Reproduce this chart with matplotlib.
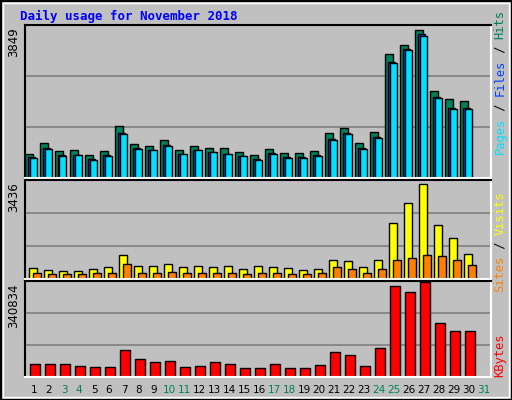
import matplotlib
matplotlib.use("Agg")
import matplotlib.pyplot as plt
from matplotlib.patches import Rectangle

days = list(range(1, 32))
hits  = [610, 890, 680, 710, 580, 680, 1320, 860, 810, 960, 710, 810, 760, 760, 660, 580, 730, 630, 630, 680, 1140, 1270, 890, 1170, 3140, 3390, 3749, 2210, 2000, 1950, 0]
files = [530, 760, 580, 590, 480, 580, 1140, 760, 710, 830, 610, 710, 660, 610, 560, 480, 630, 530, 530, 580, 990, 1140, 750, 1040, 2960, 3290, 3650, 2050, 1780, 1780, 0]
pages = [510, 740, 570, 580, 470, 570, 1110, 740, 700, 820, 600, 700, 650, 600, 550, 470, 620, 520, 520, 570, 970, 1120, 730, 1020, 2930, 3260, 3620, 2030, 1760, 1760, 0]
visits = [390, 320, 280, 280, 350, 420, 850, 460, 460, 530, 420, 460, 420, 460, 350, 460, 420, 390, 320, 350, 670, 640, 420, 670, 1980, 2650, 3320, 1910, 1450, 880, 0]
sites  = [200, 180, 170, 170, 200, 220, 530, 220, 220, 250, 200, 220, 200, 220, 180, 200, 200, 190, 180, 200, 420, 350, 220, 350, 670, 740, 850, 810, 670, 490, 0]
kbytes = [45000, 45000, 45000, 41000, 37000, 37000, 96000, 66000, 55000, 59000, 37000, 41000, 52000, 48000, 33000, 33000, 48000, 33000, 33000, 44000, 89000, 78000, 41000, 104000, 327000, 305000, 340834, 192000, 166000, 166000, 0]
ymax = [3849, 3436, 340834]

W, H = 512, 400
fig = plt.figure(figsize=(W/100, H/100), dpi=100)
fig.patch.set_facecolor("#C0C0C0")

def px(x0, y0, x1, y1):
    return [x0/W, 1-y1/H, (x1-x0)/W, (y1-y0)/H]

fig.add_artist(Rectangle((0.5/W, 0.5/H), 1-1/W, 1-1/H, transform=fig.transFigure, fill=False, ec="black", lw=1.5))
fig.add_artist(Rectangle((3/W, 3/H), 1-6/W, 1-6/H, transform=fig.transFigure, fill=False, ec="white", lw=1))
fig.text(20/W, 1-16/H, "Daily usage for November 2018", color="#0000FF", family="DejaVu Sans Mono",
         weight="bold", fontsize=9, va="center", ha="left")

xl = (1-(34-25)/15, 1+(491-34)/15)
panels = [(25, 178), (180, 279), (281, 377)]
axes = []
for (y0, y1), ym in zip(panels, ymax):
    ax = fig.add_axes(px(25, y0, 491, y1))
    ax.set_facecolor("#C0C0C0")
    ax.set_xlim(*xl)
    ax.set_ylim(0, ym*1.01)
    for f in (1/3, 2/3):
        ax.axhline(ym*1.01*f, color="#808080", lw=1.2, zorder=0)
    ax.set_xticks([]); ax.set_yticks([])
    ax.spines["top"].set_color("black"); ax.spines["left"].set_color("black")
    ax.spines["bottom"].set_color("white"); ax.spines["right"].set_color("white")
    for s in ax.spines.values(): s.set_linewidth(1.5)
    fig.text(14/W, 1-y0/H - 2/H, str(ym), rotation=90, va="top", ha="center", fontsize=8.5)
    axes.append(ax)

s = 1/15
a0, a1, a2 = axes
a0.bar([d - 5*s for d in days], hits, width=7.5*s, color="#00805C", ec="black", lw=1)
a0.bar([d - 2.5*s for d in days], files, width=7*s, color="#0040FF", ec="black", lw=1)
a0.bar([d - 1*s for d in days], pages, width=7*s, color="#00E0FF", ec="black", lw=1)
a1.bar([d - 1*s for d in days], visits, width=8*s, color="#FFFF00", ec="black", lw=1)
a1.bar([d + 3*s for d in days], sites, width=8*s, color="#FF8000", ec="black", lw=1)
a2.bar([d + 1*s for d in days], kbytes, width=10*s, color="#FF0000", ec="black", lw=1)

weekend = {3, 4, 10, 11, 17, 18, 24, 25, 31}
for d in days:
    fig.text((34+15*(d-1))/W, 1-390/H, str(d), ha="center", va="center", fontsize=7.5,
             color="#00805C" if d in weekend else "black")

def side(y_center, parts):
    total = sum(len(t) for t, _ in parts)
    ch = 7.2
    y = y_center + total*ch/2
    for t, c in parts:
        fig.text(500/W, 1-y/H, t, rotation=90, color=c, family="DejaVu Sans Mono", fontsize=8.7,
                 ha="center", va="bottom")
        y -= len(t)*ch

side(82, [("Pages", "#00E0FF"), (" / ", "black"), ("Files", "#0040FF"), (" / ", "black"), ("Hits", "#00805C")])
side(242, [("Sites", "#FF8000"), (" / ", "black"), ("Visits", "#FFFF00")])
side(355, [("KBytes", "#FF0000")])

fig.savefig("out.png", dpi=100, facecolor=fig.get_facecolor())
